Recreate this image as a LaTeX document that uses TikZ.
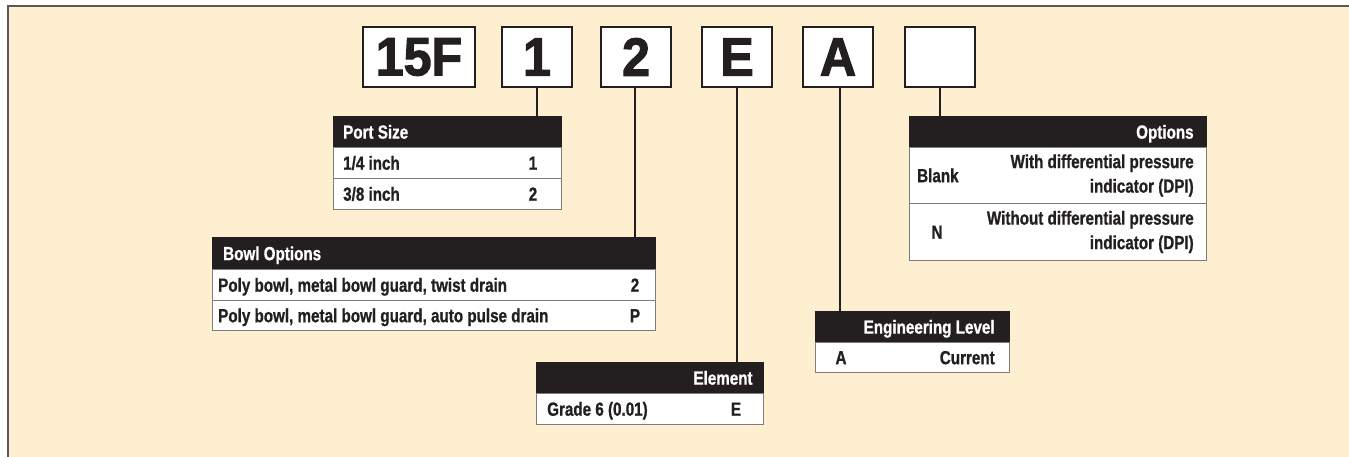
\documentclass[tikz,border=0pt]{standalone}
\usepackage{fontspec}
\setmainfont{Liberation Sans}
\newfontfamily\condfont[FakeStretch=0.8,FakeBold=0.8]{Liberation Sans}
\newfontfamily\codefont[FakeStretch=0.93,FakeBold=2]{Liberation Sans}
\definecolor{cream}{RGB}{255,239,209}
\definecolor{ink}{RGB}{35,31,32}
\definecolor{rulec}{RGB}{125,125,125}
\begin{document}
\begin{tikzpicture}[x=1pt,y=-1pt,
  codebox/.style={draw=ink,line width=1.3pt,fill=white,minimum height=60pt,inner sep=0pt,
    font=\codefont\bfseries\fontsize{54}{54}\selectfont,text=ink},
  hdr/.style={fill=ink,draw=ink,line width=0.8pt,anchor=north west,inner sep=0pt},
  cell/.style={fill=white,draw=rulec,line width=0.9pt,anchor=north west,inner sep=0pt},
  tx/.style={inner sep=0pt,text height=13.5pt,text depth=0pt,font=\condfont\bfseries\fontsize{19}{24.5}\selectfont,text=ink},
  htx/.style={tx,text=white},
  conn/.style={draw=ink,line width=1.6pt}]
\useasboundingbox (0,0) rectangle (1349,457);
\fill[white] (0,0) rectangle (1349,457);
\fill[cream] (8,6) rectangle (1349,457);
\draw[line width=1.5pt,color=ink!75] (8,457) -- (8,6) -- (1349,6);

% code boxes
\node[codebox,minimum width=112pt] (c15) at (419,57) {15F};
\node[codebox,minimum width=70pt] (c1) at (537,57) {1};
\node[codebox,minimum width=70pt] (c2) at (636,57) {2};
\node[codebox,minimum width=70pt] (cE) at (737,57) {E};
\node[codebox,minimum width=70pt] (cA) at (838,57) {A};
\node[codebox,minimum width=70pt] (cO) at (940,57) {};

% Port Size
\node[hdr,minimum width=228pt,minimum height=31pt] (psh) at (333,116) {};
\node[cell,minimum width=228pt,minimum height=31pt] (ps1) at (333,147) {};
\node[cell,minimum width=228pt,minimum height=31pt] (ps2) at (333,178) {};
\node[htx,anchor=west] (psht) at ([xshift=10pt]psh.west) {Port Size};
\node[tx,anchor=west] (ps1l) at ([xshift=10pt]ps1.west) {1/4 inch};
\node[tx] (ps1v) at ([xshift=200pt]ps1.west) {1};
\node[tx,anchor=west] (ps2l) at ([xshift=10pt]ps2.west) {3/8 inch};
\node[tx] (ps2v) at ([xshift=200pt]ps2.west) {2};

% Bowl Options
\node[hdr,minimum width=443pt,minimum height=32pt] (boh) at (212,237) {};
\node[cell,minimum width=443pt,minimum height=31pt] (bo1) at (212,269) {};
\node[cell,minimum width=443pt,minimum height=30pt] (bo2) at (212,300) {};
\node[htx,anchor=west] (boht) at ([xshift=11pt]boh.west) {Bowl Options};
\node[tx,anchor=west] (bo1l) at ([xshift=6pt]bo1.west) {Poly bowl, metal bowl guard, twist drain};
\node[tx] (bo1v) at ([xshift=423pt]bo1.west) {2};
\node[tx,anchor=west] (bo2l) at ([xshift=6pt]bo2.west) {Poly bowl, metal bowl guard, auto pulse drain};
\node[tx] (bo2v) at ([xshift=423pt]bo2.west) {P};

% Element
\node[hdr,minimum width=227pt,minimum height=31pt] (elh) at (536,362) {};
\node[cell,minimum width=227pt,minimum height=31pt] (el1) at (536,393) {};
\node[htx,anchor=east] (elht) at ([xshift=-11pt]elh.east) {Element};
\node[tx,anchor=west] (el1l) at ([xshift=11pt]el1.west) {Grade 6 (0.01)};
\node[tx] (el1v) at ([xshift=200pt]el1.west) {E};

% Engineering Level
\node[hdr,minimum width=194pt,minimum height=31pt] (eqh) at (815,311) {};
\node[cell,minimum width=194pt,minimum height=30pt] (eq1) at (815,342) {};
\node[htx,anchor=east] (eqht) at ([xshift=-15pt]eqh.east) {Engineering Level};
\node[tx] (eq1l) at ([xshift=26pt]eq1.west) {A};
\node[tx,anchor=east] (eq1v) at ([xshift=-15pt]eq1.east) {Current};

% Options
\node[hdr,minimum width=297pt,minimum height=31pt] (oph) at (909,116) {};
\node[cell,minimum width=297pt,minimum height=56pt] (op1) at (909,147) {};
\node[cell,minimum width=297pt,minimum height=57pt] (op2) at (909,203) {};
\node[htx,anchor=east] (opht) at ([xshift=-13pt]oph.east) {Options};
\node[tx,anchor=west] (op1l) at ([xshift=8pt]op1.west) {Blank};
\node[tx,text height=,text depth=,align=right,anchor=east] (op1v) at ([xshift=-13pt]op1.east) {With differential pressure\\indicator (DPI)};
\node[tx] (op2l) at ([xshift=28pt]op2.west) {N};
\node[tx,text height=,text depth=,align=right,anchor=east] (op2v) at ([xshift=-13pt]op2.east) {Without differential pressure\\indicator (DPI)};

% connectors
\draw[conn] (c1.south) -- (c1.south |- psh.north);
\draw[conn] ([xshift=-1pt]c2.south) -- ([xshift=-1pt]c2.south |- boh.north);
\draw[conn] (cE.south) -- (cE.south |- elh.north);
\draw[conn] ([xshift=2pt]cA.south) -- ([xshift=2pt]cA.south |- eqh.north);
\draw[conn] (cO.south) -- (cO.south |- oph.north);
\end{tikzpicture}
\end{document}
